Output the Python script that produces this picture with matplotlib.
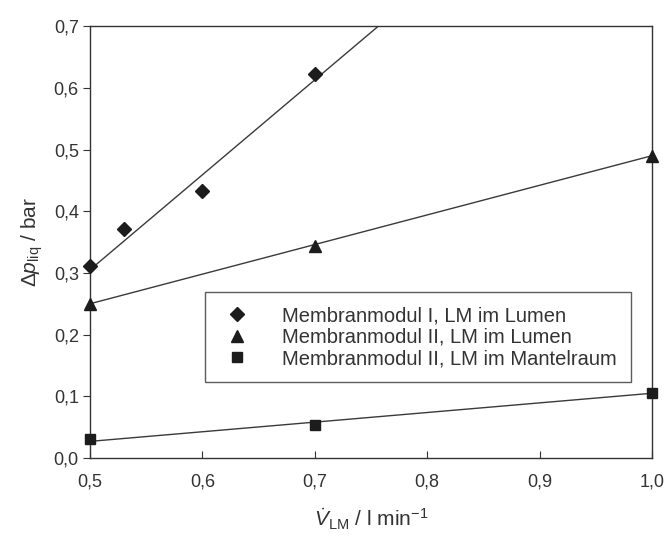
import numpy as np
import matplotlib
matplotlib.use("Agg")
import matplotlib.pyplot as plt

plt.rcParams['font.family'] = ['Liberation Sans', 'DejaVu Sans']
plt.rcParams['mathtext.fontset'] = 'custom'
plt.rcParams['mathtext.rm'] = 'Liberation Sans'
plt.rcParams['mathtext.it'] = 'Liberation Sans:italic'

# Data (measured points)
x1 = [0.50, 0.53, 0.60, 0.70]
y1 = [0.311, 0.371, 0.432, 0.623]
x2 = [0.50, 0.70, 1.00]
y2 = [0.250, 0.344, 0.490]
x3 = [0.50, 0.70, 1.00]
y3 = [0.031, 0.054, 0.106]

# Drawn trend lines (end points)
fit1_x = [0.50, 0.78]
fit1_y = [0.305, 0.736]
fit2_x = [0.50, 1.00]
fit2_y = [0.250, 0.490]
fit3_x = [0.50, 1.00]
fit3_y = [0.027, 0.105]

labels = ["Membranmodul I, LM im Lumen",
          "Membranmodul II, LM im Lumen",
          "Membranmodul II, LM im Mantelraum"]
xticks = [0.5, 0.6, 0.7, 0.8, 0.9, 1.0]
yticks = [0.0, 0.1, 0.2, 0.3, 0.4, 0.5, 0.6, 0.7]

fig = plt.figure(figsize=(6.66, 5.44), dpi=100)
ax = fig.add_axes([0.135, 0.158, 0.844, 0.794])

col = '#1c1c1c'
lcol = '#3a3a3a'
series = [(x1, y1, fit1_x, fit1_y, 'D', 7.5, labels[0]),
          (x2, y2, fit2_x, fit2_y, '^', 8.5, labels[1]),
          (x3, y3, fit3_x, fit3_y, 's', 7, labels[2])]
for xd, yd, fx, fy, m, ms, lab in series:
    ax.plot(fx, fy, color=lcol, lw=1.0, zorder=2)
    ax.plot(xd, yd, ls='none', marker=m, ms=ms, color=col, label=lab,
            zorder=3, clip_on=False)

ax.set_xlim(0.5, 1.0)
ax.set_ylim(0.0, 0.7)
ax.set_xticks(xticks)
ax.set_yticks(yticks)
ax.set_xticklabels([f"{v:.1f}".replace('.', ',') for v in xticks])
ax.set_yticklabels([f"{v:.1f}".replace('.', ',') for v in yticks])
ax.tick_params(axis='x', direction='in', length=5, labelsize=13, pad=11, colors='#333333')
ax.tick_params(axis='y', direction='out', length=5, labelsize=13, pad=3, colors='#333333')
for s in ax.spines.values():
    s.set_color('#333333')
    s.set_linewidth(1.0)

ax.set_xlabel(r'$\dot{V}_{\rm LM}$ / l min$^{-1}$', fontsize=15, color='#333333', labelpad=12)
ax.set_ylabel(r'$\Delta p_{\rm liq}$ / bar', fontsize=15, color='#333333', labelpad=6)

leg = ax.legend(loc='lower left', bbox_to_anchor=(0.205, 0.175), fontsize=14.5,
                frameon=True, fancybox=False, edgecolor='#333333',
                handletextpad=1.3, labelspacing=0.12, borderpad=0.7,
                handlelength=1.8, borderaxespad=0.0)
leg.get_frame().set_linewidth(1.0)
for t in leg.get_texts():
    t.set_color('#333333')

fig.savefig('out.png', dpi=100)
